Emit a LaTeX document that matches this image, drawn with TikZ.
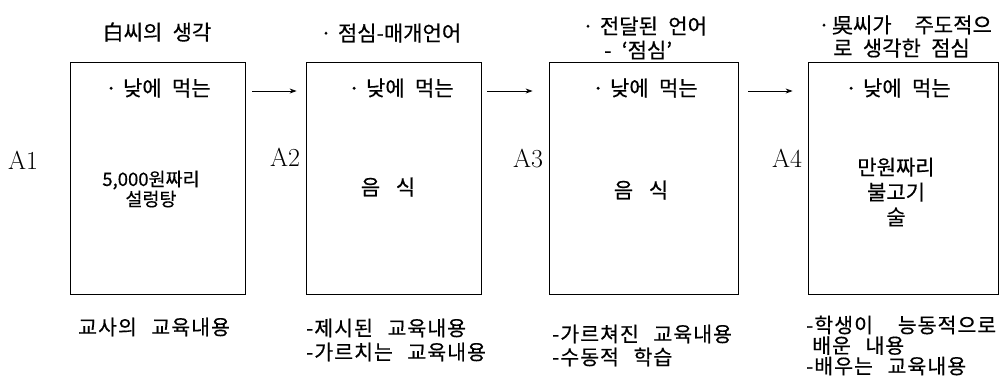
\documentclass[tikz,border=0pt]{standalone}
\usepackage{fontspec}
\newfontfamily\kr[WordSpace=2.2,FakeBold=0.4]{Noto Sans CJK KR}
\newfontfamily\krw[WordSpace=2.6,LetterSpace=5,FakeBold=0.4]{Noto Sans CJK KR}
\usetikzlibrary{arrows.meta}
\newcommand{\bdot}{·\hspace{6pt}}
\begin{document}
\begin{tikzpicture}[x=1pt,y=-1pt,
  box/.style={draw, line width=0.8pt, minimum width=#1, minimum height=232pt, inner sep=0pt},
  kt/.style={font=\kr\fontsize{21}{24}\selectfont, inner sep=0pt},
  kb/.style={font=\krw\fontsize{20.5}{24}\selectfont, inner sep=0pt, anchor=west, align=left},
  ks/.style={font=\kr\fontsize{18.5}{20}\selectfont, inner sep=0pt, align=center},
  lab/.style={font=\fontsize{26}{30}\selectfont, inner sep=0pt},
  arr/.style={line width=0.8pt, -{Stealth[length=7pt,width=5pt]}}]
\useasboundingbox (0,0) rectangle (1003,376);
% boxes
\node[box=175pt] (b1) at (157.5,178) {};
\node[box=175pt] (b2) at (393.5,178) {};
\node[box=189pt] (b3) at (643.5,178.5) {};
\node[box=190pt] (b4) at (903,178.5) {};
% titles
\node[kt] (t1) at (157,32) {白씨의 생각};
\node[kt, anchor=west] (t2) at (320,33) {\bdot 점심-매개언어};
\node[kt, anchor=west] (t3a) at (582,26) {\bdot 전달된 언어};
\node[kt, anchor=west] (t3b) at (604,50) {- ‘점심’};
\node[kt, anchor=west] (t4a) at (818,25) {·\hspace{2pt}吳씨가\hspace{0.6em} 주도적으};
\node[kt, anchor=west] (t4b) at (833,48) {로 생각한 점심};
% in-box lines
\node[kt] (n1) at (158,88) {\bdot 낮에 먹는};
\node[kt] (n2) at (401,88) {\bdot 낮에 먹는};
\node[kt] (n3) at (645,88) {\bdot 낮에 먹는};
\node[kt] (n4) at (898,88) {\bdot 낮에 먹는};
% box contents
\node[ks] (c1) at (151,189) {5,000원짜리\\설렁탕};
\node[kt] (c2) at (388,187) {음\hspace{0.75em}식};
\node[kt] (c3) at (641,190) {음\hspace{0.75em}식};
\node[kt, align=center, font=\kr\fontsize{21}{25}\selectfont] (c4) at (896,192) {만원짜리\\불고기\\술};
% side labels
\node[lab] (a1) at (23,160) {A1};
\node[lab] (a2) at (285,157) {A2};
\node[lab] (a3) at (528,159) {A3};
\node[lab] (a4) at (787,158) {A4};
% bottom texts
\node[kb] (d1) at (78,327) {교사의 교육내용};
\node[kb] (d2) at (306,340) {-제시된 교육내용\\-가르치는 교육내용};
\node[kb, font=\krw\fontsize{20.5}{23}\selectfont] (d3) at (552,345.5) {-가르쳐진 교육내용\\-수동적 학습};
\node[kb, font=\krw\fontsize{20.5}{20.5}\selectfont] (d4) at (806,345.5) {-학생이\hspace{0.5em} 능동적으로\\\hspace{6pt}배운 내용\\-배우는 교육내용};
% arrows
\draw[arr, shorten <=7pt, shorten >=9pt] ([yshift=87pt]b1.east) -- ([yshift=87pt]b2.west);
\draw[arr, shorten <=6pt, shorten >=16pt] ([yshift=87pt]b2.east) -- ([yshift=87.5pt]b3.west);
\draw[arr, shorten <=10pt, shorten >=15pt] ([yshift=87.5pt]b3.east) -- ([yshift=87.5pt]b4.west);
\end{tikzpicture}
\end{document}
